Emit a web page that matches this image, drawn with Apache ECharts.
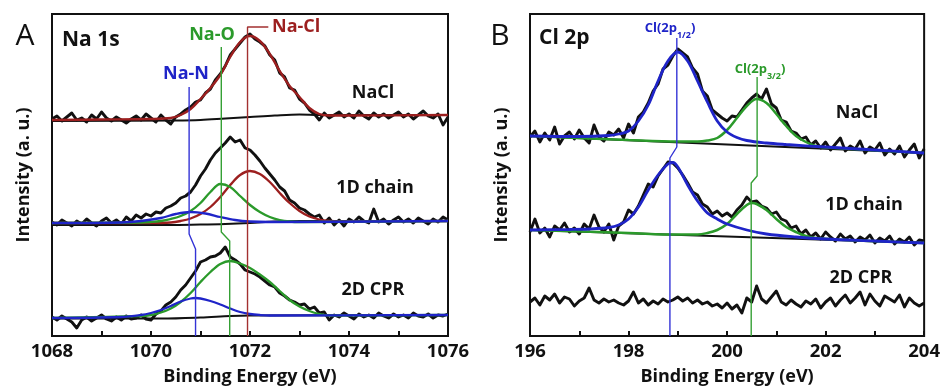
<!DOCTYPE html>
<html>
<head>
<meta charset="utf-8">
<script src="https://cdn.jsdelivr.net/npm/echarts@6/dist/echarts.min.js"></script>
<style>
  html, body { margin: 0; padding: 0; background: #fff; }
  #chart { width: 943px; height: 391px; }
</style>
</head>
<body>
<div id="chart"></div>
<script>
// ---- data (intensity in arbitrary units) ----
// energy grids for the raw spectra, 0.1 eV steps
const eA = Array.from({ length: 81 }, (_, i) => +(1068 + i * 0.1).toFixed(1));
const eB = Array.from({ length: 81 }, (_, i) => +(196 + i * 0.1).toFixed(1));

// Na 1s raw spectra
const naNaCl = [217,220,215,219,223,216,218,214,221,217,224,218,215,219,216,213,217,220,216,222,
  218,214,221,216,212,219,222,226,229,234,236,243,247,256,262,270,281,287,293,299,
  302,297,294,290,281,276,263,259,248,246,237,233,226,222,216,223,218,221,224,219,
  222,218,225,220,217,223,219,222,218,221,224,219,222,217,221,225,220,218,222,211,219];
const na1D = [114,111,116,113,110,115,112,117,113,110,115,118,113,116,112,119,115,121,118,122,
  120,124,123,128,130,133,138,140,144,151,160,167,176,183,188,193,199,194,196,188,
  186,181,175,168,162,156,149,145,136,133,128,126,122,119,121,113,118,111,116,110,
  117,114,119,115,113,127,114,117,112,116,119,114,117,113,118,115,112,117,114,119,116];
const na2D = [19,16,20,17,14,8,16,19,15,18,21,17,15,19,16,20,17,18,21,17,
  16,22,25,31,34,39,46,51,58,65,74,76,79,80,83,89,79,76,72,66,
  64,62,59,55,51,49,43,40,36,34,31,32,27,29,23,24,16,21,19,23,
  20,17,22,19,21,18,23,20,18,22,19,21,18,23,20,19,22,18,21,20,22];

// Na 1s fitted components [eV, intensity]
const naNaClFit = [[1068,216],[1069,216.5],[1070,217],[1070.4,218],[1070.6,221],[1070.8,227],[1071,237],
  [1071.2,248],[1071.4,261],[1071.6,279],[1071.8,294],[1072,300],[1072.2,295],[1072.4,282],[1072.6,265],
  [1072.8,250],[1073,239],[1073.2,228],[1073.4,222],[1073.6,220.5],[1074,220.5],[1076,221]];
const naNaClBg = [[1068,215],[1070.5,215.5],[1071,216],[1071.5,217.5],[1072,219],[1072.5,220.5],[1073,221.5],[1073.4,221],[1076,221]];

const na1DRed = [[1068,113],[1070,113],[1070.4,113.5],[1070.6,115],[1070.8,117.5],[1071,122],[1071.2,129],
  [1071.4,139],[1071.6,151],[1071.8,161],[1072,165],[1072.2,162],[1072.4,154],[1072.6,143],[1072.8,133],
  [1073,125],[1073.2,119.5],[1073.4,116.5],[1073.6,115],[1073.8,114.5],[1076,115]];
const na1DGreen = [[1068,113],[1069.8,113.5],[1070,114],[1070.2,115],[1070.4,117],[1070.6,120],[1070.8,125],
  [1071,133],[1071.2,144],[1071.4,152],[1071.6,149],[1071.8,140],[1072,131],[1072.2,124],[1072.4,119],
  [1072.6,116],[1072.8,114.5],[1073,114],[1076,115]];
const na1DBlue = [[1068,113],[1069.4,113.5],[1069.8,115],[1070.2,118],[1070.5,122],[1070.8,124],[1071.1,122.5],
  [1071.4,119],[1071.7,116],[1072,114.5],[1072.4,114],[1076,115]];
const na1DBg = [[1068,111],[1070,111],[1071,111.5],[1071.5,112],[1072,113],[1072.5,114.5],[1073,115],[1076,115]];

const na2DGreen = [[1068,18],[1069.8,20],[1070,21],[1070.2,23.5],[1070.4,27.5],[1070.6,34],[1070.8,43],
  [1071,54],[1071.2,64],[1071.4,72],[1071.6,75],[1071.8,72.5],[1072,68],[1072.2,61.5],[1072.4,54],
  [1072.6,45],[1072.8,36],[1073,29.5],[1073.2,25],[1073.4,22],[1073.6,20.5],[1076,21]];
const na2DBlue = [[1068,18],[1069.4,19],[1069.8,21],[1070,23],[1070.2,26],[1070.4,30],[1070.6,34.5],
  [1070.8,37.5],[1070.9,38],[1071,37.5],[1071.2,35],[1071.4,31.5],[1071.6,27.5],[1071.8,24],[1072,22],
  [1072.2,21],[1072.4,20.5],[1076,21]];
const na2DBg = [[1068,17.5],[1070.2,17.5],[1071,18.5],[1071.6,20],[1072,20.5],[1076,21]];

// Na 1s reference markers
const markNaN = [[1070.77,249],[1070.77,102],[1070.9,87],[1070.9,0]];
const markNaO = [[1071.42,289],[1071.42,104],[1071.59,95],[1071.59,0]];
const markNaCl = [[1072.37,309],[1071.95,309],[1071.95,0]];

// Cl 2p raw spectra
const clNaCl = [199,205,194,203,196,209,192,200,204,197,206,198,193,211,199,195,204,201,207,198,
  212,203,219,224,233,245,252,267,271,280,287,283,279,268,262,245,240,226,222,218,
  215,220,219,226,233,238,242,237,247,232,228,216,214,205,203,197,199,191,195,188,
  194,186,192,198,185,190,187,195,183,189,186,193,181,187,182,190,179,186,192,178,187];
const cl1D = [104,117,103,108,99,110,106,113,104,108,102,112,107,121,109,104,112,96,110,114,
  126,122,130,141,152,149,160,167,174,173,168,161,153,144,141,132,129,122,125,120,
  123,119,126,131,139,134,135,130,128,122,124,117,115,108,110,102,106,99,103,97,
  104,99,95,102,97,100,94,99,96,101,93,98,95,100,92,97,94,99,91,96,95];
const cl2D = [34,38,31,40,36,42,33,39,37,30,35,38,48,36,33,37,34,36,33,31,
  35,44,33,37,31,35,32,37,34,36,39,35,38,33,36,32,34,30,32,28,
  33,27,31,23,38,34,50,37,33,39,45,34,31,36,32,29,35,32,37,28,
  34,38,30,36,41,33,38,44,31,42,35,30,40,37,34,41,29,38,33,30,33];

// Cl 2p fitted components [eV, intensity]
const clNaClBlue = [[196,200],[197,199.5],[197.6,200.5],[197.8,202],[198,205],[198.2,215],[198.4,231],
  [198.6,255],[198.8,275],[199,284],[199.2,275],[199.4,255],[199.6,234],[199.8,215],[200,204],
  [200.2,198.5],[200.4,195.5],[200.8,193],[201.2,191.5],[202,189],[203,186],[204,183]];
const clNaClGreen = [[196,200],[198,196],[199,194.5],[199.4,194.5],[199.6,195.5],[199.8,198],[200,206],
  [200.2,218],[200.4,230],[200.6,237],[200.8,233],[201,222],[201.2,210],[201.4,200],[201.6,194],
  [201.8,190],[202,188.5],[204,183]];
const clNaClBg = [[196,200],[204,183]];

const cl1DBlue = [[196,106],[196.8,106.5],[197.2,107],[197.6,108.5],[197.8,111],[198,117],[198.2,129],
  [198.4,146],[198.6,161],[198.8,172],[198.9,173.5],[199,169],[199.2,151],[199.4,135],[199.6,123],
  [199.8,117],[200,112],[200.4,106],[200.8,102],[201.4,99],[202,97],[203,95],[204,93]];
const cl1DGreen = [[196,106],[198,103],[199,101.5],[199.4,101.5],[199.6,103],[199.8,106],[200,112],
  [200.2,122],[200.4,131],[200.5,133],[200.6,132],[200.8,126],[201,117],[201.2,109],[201.4,104],
  [201.6,100],[201.8,98],[202.2,96.5],[204,93]];
const cl1DBg = [[196,106],[204,93]];

// Cl 2p reference markers
const markCl12 = [[198.98,298],[198.98,189],[198.84,178],[198.84,0]];
const markCl32 = [[200.61,259],[200.61,160],[200.49,153],[200.49,0]];

// ---- styling ----
const BLACK = '#111';
const BLUE = '#1f24c8';
const GREEN = '#2b9a2b';
const RED = '#9c1f1f';
const FONT = '"Open Sans", "Liberation Sans", sans-serif';

const pair = (xs, ys) => ys.map((y, i) => [xs[i], y]);

function line(data, idx, color, width, z) {
  return {
    type: 'line', data, xAxisIndex: idx, yAxisIndex: idx,
    showSymbol: false, symbol: 'none', smooth: 0.35,
    lineStyle: { color, width }, z, silent: true,
  };
}
function raw(data, idx) {
  return {
    type: 'line', data, xAxisIndex: idx, yAxisIndex: idx,
    showSymbol: false, symbol: 'none',
    lineStyle: { color: BLACK, width: 2.9, join: 'round' }, z: 2, silent: true,
  };
}
function mark(data, idx, color) {
  return {
    type: 'line', data, xAxisIndex: idx, yAxisIndex: idx,
    showSymbol: false, symbol: 'none',
    lineStyle: { color, width: 1.4 }, z: 5, silent: true,
  };
}

function xAxis(idx, min, max) {
  return {
    gridIndex: idx, type: 'value', min, max, interval: 1,
    axisLine: { show: false },
    axisTick: { show: true, inside: true, length: 5, lineStyle: { color: BLACK, width: 2 } },
    axisLabel: {
      margin: 6, color: BLACK, fontSize: 18.5, fontWeight: 'bold', fontFamily: FONT,
      formatter: (v) => (v % 2 === 0 ? String(v) : ''),
    },
    splitLine: { show: false },
    name: 'Binding Energy (eV)', nameLocation: 'middle', nameGap: 32,
    nameTextStyle: { color: BLACK, fontSize: 18, fontWeight: 'bold', fontFamily: FONT },
  };
}
function yAxis(idx) {
  return {
    gridIndex: idx, type: 'value', min: 0, max: 322,
    axisLine: { show: false }, axisTick: { show: false }, axisLabel: { show: false },
    splitLine: { show: false },
    name: 'Intensity (a. u.)', nameLocation: 'middle', nameGap: 19,
    nameTextStyle: { color: BLACK, fontSize: 18, fontWeight: 'bold', fontFamily: FONT },
  };
}

function txt(x, y, text, color, size, align, weight) {
  return {
    type: 'text', x, y, silent: true, z: 10,
    style: {
      text, fill: color, align: align || 'center', verticalAlign: 'middle',
      font: (weight || 'bold') + ' ' + size + 'px ' + FONT,
    },
  };
}
function subLabel(x, y, main, sub, color) {
  const m = { fill: color, fontSize: 13, fontWeight: 'bold', fontFamily: FONT, lineHeight: 14, verticalAlign: 'top' };
  const s = { fill: color, fontSize: 9, fontWeight: 'bold', fontFamily: FONT, lineHeight: 9, verticalAlign: 'top', padding: [9, 0, 0, 0] };
  return {
    type: 'text', x, y, silent: true, z: 10,
    style: { text: '{m|' + main + '}{s|' + sub + '}{m|)}', rich: { m, s }, align: 'center', verticalAlign: 'middle' },
  };
}

const option = {
  animation: false,
  backgroundColor: '#fff',
  grid: [
    { left: 52, right: 495, top: 14, bottom: 55, show: true, borderColor: BLACK, borderWidth: 2, backgroundColor: 'transparent' },
    { left: 530, right: 18, top: 14, bottom: 55, show: true, borderColor: BLACK, borderWidth: 2, backgroundColor: 'transparent' },
  ],
  xAxis: [xAxis(0, 1068, 1076), xAxis(1, 196, 204)],
  yAxis: [yAxis(0), yAxis(1)],
  series: [
    // panel A
    raw(pair(eA, naNaCl), 0),
    raw(pair(eA, na1D), 0),
    raw(pair(eA, na2D), 0),
    line(naNaClBg, 0, BLACK, 2, 3),
    line(naNaClFit, 0, RED, 2.4, 4),
    line(na1DBg, 0, BLACK, 2, 3),
    line(na1DRed, 0, RED, 2.3, 4),
    line(na1DGreen, 0, GREEN, 2.3, 4),
    line(na1DBlue, 0, BLUE, 2.3, 4),
    line(na2DBg, 0, BLACK, 2, 3),
    line(na2DGreen, 0, GREEN, 2.3, 4),
    line(na2DBlue, 0, BLUE, 2.3, 4),
    mark(markNaN, 0, '#3333d6'),
    mark(markNaO, 0, '#35a035'),
    mark(markNaCl, 0, '#a33030'),
    // panel B
    raw(pair(eB, clNaCl), 1),
    raw(pair(eB, cl1D), 1),
    raw(pair(eB, cl2D), 1),
    line(clNaClBg, 1, BLACK, 2, 3),
    line(clNaClGreen, 1, GREEN, 2.5, 4),
    line(clNaClBlue, 1, BLUE, 2.8, 4),
    line(cl1DBg, 1, BLACK, 2, 3),
    line(cl1DGreen, 1, GREEN, 2.5, 4),
    line(cl1DBlue, 1, BLUE, 2.8, 4),
    mark(markCl12, 1, '#3333d6'),
    mark(markCl32, 1, '#35a035'),
  ],
  graphic: [
    txt(25, 36, 'A', BLACK, 30, 'center', 'normal'),
    txt(62, 40, 'Na 1s', BLACK, 21, 'left'),
    txt(186, 74, 'Na-N', BLUE, 18),
    txt(212, 35, 'Na-O', GREEN, 18),
    txt(272, 27, 'Na-Cl', RED, 18, 'left'),
    txt(373, 93, 'NaCl', BLACK, 18),
    txt(375, 188, '1D chain', BLACK, 18),
    txt(373, 290, '2D CPR', BLACK, 18),

    txt(500, 36, 'B', BLACK, 30, 'center', 'normal'),
    txt(539, 38, 'Cl 2p', BLACK, 21, 'left'),
    subLabel(670, 29, 'Cl(2p', '1/2', BLUE),
    subLabel(760, 70, 'Cl(2p', '3/2', GREEN),
    txt(857, 113, 'NaCl', BLACK, 18),
    txt(864, 205, '1D chain', BLACK, 18),
    txt(861, 278, '2D CPR', BLACK, 18),
  ],
};

const chart = echarts.init(document.getElementById('chart'), null, { renderer: 'canvas' });
chart.setOption(option);
</script>
</body>
</html>
